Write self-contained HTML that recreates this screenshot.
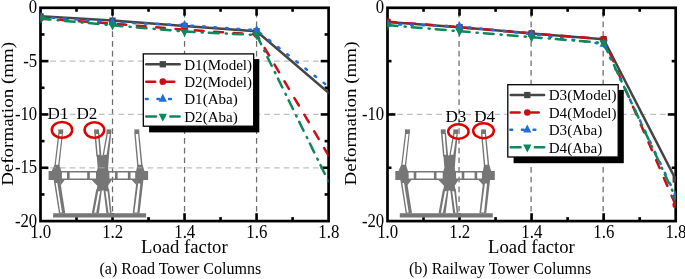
<!DOCTYPE html>
<html><head><meta charset="utf-8"><title>Deformation vs load factor</title>
<style>
html,body{margin:0;padding:0;background:#fff;}
svg{display:block;will-change:transform;}
text{font-family:"Liberation Serif", serif;fill:#000;}
</style></head><body>
<svg width="685" height="279" viewBox="0 0 685 279">
<rect width="685" height="279" fill="#fff"/>
<line x1="112.52" y1="7.8" x2="112.52" y2="221.1" stroke="#6c6c6c" stroke-width="1.25" stroke-dasharray="5.7 4" stroke-dashoffset="5.6"/>
<line x1="184.55" y1="7.8" x2="184.55" y2="221.1" stroke="#6c6c6c" stroke-width="1.25" stroke-dasharray="5.7 4" stroke-dashoffset="5.6"/>
<line x1="256.58" y1="7.8" x2="256.58" y2="221.1" stroke="#6c6c6c" stroke-width="1.25" stroke-dasharray="5.7 4" stroke-dashoffset="5.6"/>
<line x1="40.5" y1="61.12" x2="328.6" y2="61.12" stroke="#c0c0c0" stroke-width="1.3" stroke-dasharray="5.7 4.03"/>
<line x1="40.5" y1="114.45" x2="328.6" y2="114.45" stroke="#c0c0c0" stroke-width="1.3" stroke-dasharray="5.7 4.03"/>
<line x1="40.5" y1="167.78" x2="328.6" y2="167.78" stroke="#c0c0c0" stroke-width="1.3" stroke-dasharray="5.7 4.03"/>
<rect x="40.5" y="7.8" width="288.1" height="213.29999999999998" fill="none" stroke="#000" stroke-width="2.7"/>
<line x1="76.51" y1="7.8" x2="76.51" y2="11.8" stroke="#000" stroke-width="2.6"/>
<line x1="76.51" y1="221.1" x2="76.51" y2="217.1" stroke="#000" stroke-width="2.6"/>
<line x1="112.52" y1="7.8" x2="112.52" y2="15.7" stroke="#000" stroke-width="2.6"/>
<line x1="112.52" y1="221.1" x2="112.52" y2="213.2" stroke="#000" stroke-width="2.6"/>
<line x1="148.54" y1="7.8" x2="148.54" y2="11.8" stroke="#000" stroke-width="2.6"/>
<line x1="148.54" y1="221.1" x2="148.54" y2="217.1" stroke="#000" stroke-width="2.6"/>
<line x1="184.55" y1="7.8" x2="184.55" y2="15.7" stroke="#000" stroke-width="2.6"/>
<line x1="184.55" y1="221.1" x2="184.55" y2="213.2" stroke="#000" stroke-width="2.6"/>
<line x1="220.56" y1="7.8" x2="220.56" y2="11.8" stroke="#000" stroke-width="2.6"/>
<line x1="220.56" y1="221.1" x2="220.56" y2="217.1" stroke="#000" stroke-width="2.6"/>
<line x1="256.58" y1="7.8" x2="256.58" y2="15.7" stroke="#000" stroke-width="2.6"/>
<line x1="256.58" y1="221.1" x2="256.58" y2="213.2" stroke="#000" stroke-width="2.6"/>
<line x1="292.59" y1="7.8" x2="292.59" y2="11.8" stroke="#000" stroke-width="2.6"/>
<line x1="292.59" y1="221.1" x2="292.59" y2="217.1" stroke="#000" stroke-width="2.6"/>
<line x1="40.5" y1="34.46" x2="44.5" y2="34.46" stroke="#000" stroke-width="2.6"/>
<line x1="328.6" y1="34.46" x2="324.6" y2="34.46" stroke="#000" stroke-width="2.6"/>
<line x1="40.5" y1="61.12" x2="48.4" y2="61.12" stroke="#000" stroke-width="2.6"/>
<line x1="328.6" y1="61.12" x2="320.70000000000005" y2="61.12" stroke="#000" stroke-width="2.6"/>
<line x1="40.5" y1="87.79" x2="44.5" y2="87.79" stroke="#000" stroke-width="2.6"/>
<line x1="328.6" y1="87.79" x2="324.6" y2="87.79" stroke="#000" stroke-width="2.6"/>
<line x1="40.5" y1="114.45" x2="48.4" y2="114.45" stroke="#000" stroke-width="2.6"/>
<line x1="328.6" y1="114.45" x2="320.70000000000005" y2="114.45" stroke="#000" stroke-width="2.6"/>
<line x1="40.5" y1="141.11" x2="44.5" y2="141.11" stroke="#000" stroke-width="2.6"/>
<line x1="328.6" y1="141.11" x2="324.6" y2="141.11" stroke="#000" stroke-width="2.6"/>
<line x1="40.5" y1="167.78" x2="48.4" y2="167.78" stroke="#000" stroke-width="2.6"/>
<line x1="328.6" y1="167.78" x2="320.70000000000005" y2="167.78" stroke="#000" stroke-width="2.6"/>
<line x1="40.5" y1="194.44" x2="44.5" y2="194.44" stroke="#000" stroke-width="2.6"/>
<line x1="328.6" y1="194.44" x2="324.6" y2="194.44" stroke="#000" stroke-width="2.6"/>
<g transform="translate(0,0)"><path d="M53.1,213.2 L146.1,213.2 L146.1,217.5 L53.1,217.5Z" fill="#767676" fill-rule="evenodd"/>
<path d="M58.3,133 L63.0,133 L59.4,166 L54.4,166Z M59.5,134.0 L61.8,134.0 L58.2,164.8 L55.8,164.8Z" fill="#767676" fill-rule="evenodd"/>
<path d="M134.3,133 L139.3,133 L142.6,166 L137.2,166Z M135.7,134.0 L138.1,134.0 L141.0,164.8 L138.5,164.8Z" fill="#767676" fill-rule="evenodd"/>
<path d="M94.3,133 L99.3,133 L101.5,156.5 L96.4,156.5Z M95.9,134.0 L98.0,134.0 L99.5,154.8 L97.7,154.8Z" fill="#767676" fill-rule="evenodd"/>
<path d="M106.5,133 L111.2,133 L108.9,156.5 L102.4,156.5Z M107.8,134.0 L109.8,134.0 L106.6,154.8 L104.0,154.8Z" fill="#767676" fill-rule="evenodd"/>
<path d="M58.3,129.4 L63.199999999999996,129.4 L63.199999999999996,133.20000000000002 L58.3,133.20000000000002Z" fill="#767676" fill-rule="evenodd"/>
<path d="M94.1,129.4 L99.0,129.4 L99.0,133.20000000000002 L94.1,133.20000000000002Z" fill="#767676" fill-rule="evenodd"/>
<path d="M106.5,129.4 L111.4,129.4 L111.4,133.20000000000002 L106.5,133.20000000000002Z" fill="#767676" fill-rule="evenodd"/>
<path d="M134.4,129.4 L139.3,129.4 L139.3,133.20000000000002 L134.4,133.20000000000002Z" fill="#767676" fill-rule="evenodd"/>
<path d="M53.7,180 L60.1,180 L65.3,213.4 L59.0,213.4Z M55.7,183 L57.3,183 L62.0,212.6 L60.2,212.6Z" fill="#767676" fill-rule="evenodd"/>
<path d="M60,179.6 L65.0,179.6 L60.6,185.5Z" fill="#767676" fill-rule="evenodd"/>
<path d="M136.6,180 L143.4,180 L139.5,213.4 L132.7,213.4Z M138.2,183.5 L140.3,183.5 L137.4,212.6 L134.4,212.6Z" fill="#767676" fill-rule="evenodd"/>
<path d="M131.3,179.6 L137,179.6 L136.4,185Z" fill="#767676" fill-rule="evenodd"/>
<path d="M96.2,189.5 L101.9,189.5 L98.9,213.4 L91.8,213.4Z M98.2,191.2 L100.2,191.2 L96.2,212.8 L94.2,212.8Z" fill="#767676" fill-rule="evenodd"/>
<path d="M103.5,189.5 L109.2,189.5 L111.6,213.4 L106.4,213.4Z M105.5,191.2 L107.5,191.2 L110.0,212.8 L108.5,212.8Z" fill="#767676" fill-rule="evenodd"/>
<path d="M48.6,171.0 L148.1,171.0 L148.1,180.1 L48.6,180.1Z M61.9,172.6 L67.0,172.6 L67.0,178.6 L61.9,178.6Z M69.6,172.6 L87.2,172.6 L87.2,178.6 L69.6,178.6Z M89.8,172.6 L96.0,172.6 L96.0,178.6 L89.8,178.6Z M109.4,172.6 L115.0,172.6 L115.0,178.6 L109.4,178.6Z M117.6,172.6 L127.9,172.6 L127.9,178.6 L117.6,178.6Z M130.5,172.6 L135.2,172.6 L135.2,178.6 L130.5,178.6Z" fill="#767676" fill-rule="evenodd"/>
<path d="M54.4,165 L59.4,165 L61.4,171.4 L51.6,171.4Z" fill="#767676" fill-rule="evenodd"/>
<path d="M137.4,165 L142.6,165 L144.6,171.4 L136,171.4Z" fill="#767676" fill-rule="evenodd"/>
<path d="M96.7,155.6 L109.0,155.6 L108.1,168 L108.5,171 L108.8,180 L111.8,180 L108.0,185.8 L109.1,190.6 L96.5,190.6 L97.3,185.8 L91.7,180 L96.4,180 L96.7,171 L97.7,168Z" fill="#767676" fill-rule="evenodd"/></g>
<line x1="54.30" y1="167.78" x2="55.90" y2="167.78" stroke="#a2a2a2" stroke-width="1.1"/>
<line x1="98.90" y1="167.78" x2="104.60" y2="167.78" stroke="#a2a2a2" stroke-width="1.1"/>
<line x1="137.80" y1="167.78" x2="142.40" y2="167.78" stroke="#a2a2a2" stroke-width="1.1"/>
<clipPath id="cL"><rect x="40.5" y="7.8" width="288.1" height="213.29999999999998"/></clipPath>
<g clip-path="url(#cL)">
<polyline points="40.50,16.33 112.52,20.60 184.55,25.93 256.58,31.26 328.60,92.91" fill="none" stroke="#454545" stroke-width="2.5" stroke-linecap="round" stroke-linejoin="round"/>
<polyline points="40.50,18.46 112.52,23.58 184.55,29.66 256.58,34.46 328.60,155.51" fill="none" stroke="#cb0d15" stroke-width="2.5" stroke-linecap="round" stroke-linejoin="round" stroke-dasharray="8.70 10.70" stroke-dashoffset="0.35"/>
<polyline points="40.50,16.87 112.52,22.20 184.55,25.18 256.58,30.20 328.60,86.72" fill="none" stroke="#1e6fd9" stroke-width="2.5" stroke-linecap="round" stroke-linejoin="round" stroke-dasharray="1.80 9.80" stroke-dashoffset="-0.25"/>
<polyline points="40.50,18.68 112.52,25.29 184.55,31.58 256.58,35.00 328.60,181.64" fill="none" stroke="#0a8a5a" stroke-width="2.5" stroke-linecap="round" stroke-linejoin="round" stroke-dasharray="9.80 7.10 1.10 6.10" stroke-dashoffset="-0.25"/>
<rect x="37.35" y="13.18" width="6.3" height="6.3" fill="#454545"/>
<rect x="109.37" y="17.45" width="6.3" height="6.3" fill="#454545"/>
<rect x="181.40" y="22.78" width="6.3" height="6.3" fill="#454545"/>
<rect x="253.43" y="28.11" width="6.3" height="6.3" fill="#454545"/>
<circle cx="40.50" cy="18.46" r="3.3" fill="#cb0d15"/>
<circle cx="112.52" cy="23.58" r="3.3" fill="#cb0d15"/>
<circle cx="184.55" cy="29.66" r="3.3" fill="#cb0d15"/>
<circle cx="256.58" cy="34.46" r="3.3" fill="#cb0d15"/>
<polygon points="40.50,11.57 36.40,19.57 44.60,19.57" fill="#1e6fd9"/>
<polygon points="112.52,16.90 108.42,24.90 116.62,24.90" fill="#1e6fd9"/>
<polygon points="184.55,19.88 180.45,27.88 188.65,27.88" fill="#1e6fd9"/>
<polygon points="256.58,24.90 252.48,32.90 260.68,32.90" fill="#1e6fd9"/>
<polygon points="40.50,23.98 36.40,15.98 44.60,15.98" fill="#0a8a5a"/>
<polygon points="112.52,30.59 108.42,22.59 116.62,22.59" fill="#0a8a5a"/>
<polygon points="184.55,36.88 180.45,28.88 188.65,28.88" fill="#0a8a5a"/>
<polygon points="256.58,40.30 252.48,32.30 260.68,32.30" fill="#0a8a5a"/>
</g>
<text transform="translate(37.20,12.70) scale(0.94,1)" text-anchor="end" font-size="17.8">0</text>
<text transform="translate(37.20,66.57) scale(0.94,1)" text-anchor="end" font-size="17.8">-5</text>
<text transform="translate(37.20,119.90) scale(0.94,1)" text-anchor="end" font-size="17.8">-10</text>
<text transform="translate(37.20,173.22) scale(0.94,1)" text-anchor="end" font-size="17.8">-15</text>
<text transform="translate(37.20,226.55) scale(0.94,1)" text-anchor="end" font-size="17.8">-20</text>
<text transform="translate(40.70,238.30) scale(0.94,1)" text-anchor="middle" font-size="17.9">1.0</text>
<text transform="translate(112.72,238.30) scale(0.94,1)" text-anchor="middle" font-size="17.9">1.2</text>
<text transform="translate(184.75,238.30) scale(0.94,1)" text-anchor="middle" font-size="17.9">1.4</text>
<text transform="translate(256.78,238.30) scale(0.94,1)" text-anchor="middle" font-size="17.9">1.6</text>
<text transform="translate(328.80,238.30) scale(0.94,1)" text-anchor="middle" font-size="17.9">1.8</text>
<text transform="translate(184.35,253.40)" text-anchor="middle" font-size="18.7">Load factor</text>
<text transform="translate(13.40,113.90) rotate(-90) scale(1.08,1)" text-anchor="middle" font-size="17.6">Deformation (mm)</text>
<text transform="translate(180.30,274.20)" text-anchor="middle" font-size="16">(a) Road Tower Columns</text>
<ellipse cx="62" cy="129.9" rx="10.2" ry="7.9" fill="none" stroke="#e00000" stroke-width="2.5"/>
<ellipse cx="94.4" cy="129.95" rx="9.8" ry="7.75" fill="none" stroke="#e00000" stroke-width="2.5"/>
<text transform="translate(47.60,118.50) scale(0.99,1)" text-anchor="start" font-size="17.3">D1</text>
<text transform="translate(76.40,118.50) scale(0.99,1)" text-anchor="start" font-size="17.3">D2</text>
<rect x="149.10" y="59.10" width="110.20" height="73.30" fill="#000"/>
<rect x="143.3" y="53.9" width="110.4" height="72.3" fill="#fff" stroke="#000" stroke-width="1.3"/>
<line x1="146.25" y1="64.25" x2="179.65" y2="64.25" stroke="#454545" stroke-width="2.5" stroke-linecap="round"/>
<rect x="159.65" y="61.10" width="6.3" height="6.3" fill="#454545"/>
<text x="184.20" y="69.5" font-size="15.1">D1(Model)</text>
<line x1="146.25" y1="81.65" x2="179.65" y2="81.65" stroke="#cb0d15" stroke-width="2.5" stroke-linecap="round" stroke-dasharray="8.90 10.20"/>
<circle cx="162.80" cy="81.65" r="3.3" fill="#cb0d15"/>
<text x="184.20" y="87.0" font-size="15.1">D2(Model)</text>
<line x1="145.85" y1="99.05" x2="177.05" y2="99.05" stroke="#1e6fd9" stroke-width="2.5" stroke-linecap="round" stroke-dasharray="1.80 9.80"/>
<polygon points="162.80,93.75 158.70,101.75 166.90,101.75" fill="#1e6fd9"/>
<text x="184.20" y="104.3" font-size="15.1">D1(Aba)</text>
<line x1="146.25" y1="116.45" x2="179.65" y2="116.45" stroke="#0a8a5a" stroke-width="2.5" stroke-linecap="round" stroke-dasharray="9.80 7.10 1.10 6.10"/>
<polygon points="162.80,121.75 158.70,113.75 166.90,113.75" fill="#0a8a5a"/>
<text x="184.20" y="121.7" font-size="15.1">D2(Aba)</text>
<line x1="459.05" y1="7.8" x2="459.05" y2="221.1" stroke="#6c6c6c" stroke-width="1.25" stroke-dasharray="5.7 4" stroke-dashoffset="5.6"/>
<line x1="531.10" y1="7.8" x2="531.10" y2="221.1" stroke="#6c6c6c" stroke-width="1.25" stroke-dasharray="5.7 4" stroke-dashoffset="5.6"/>
<line x1="603.15" y1="7.8" x2="603.15" y2="221.1" stroke="#6c6c6c" stroke-width="1.25" stroke-dasharray="5.7 4" stroke-dashoffset="5.6"/>
<line x1="387.5" y1="114.45" x2="675.7" y2="114.45" stroke="#c0c0c0" stroke-width="1.3" stroke-dasharray="5.7 4.03"/>
<rect x="387.5" y="7.8" width="288.20000000000005" height="213.29999999999998" fill="none" stroke="#000" stroke-width="2.7"/>
<line x1="423.53" y1="7.8" x2="423.53" y2="11.8" stroke="#000" stroke-width="2.6"/>
<line x1="423.53" y1="221.1" x2="423.53" y2="217.1" stroke="#000" stroke-width="2.6"/>
<line x1="459.55" y1="7.8" x2="459.55" y2="15.7" stroke="#000" stroke-width="2.6"/>
<line x1="459.55" y1="221.1" x2="459.55" y2="213.2" stroke="#000" stroke-width="2.6"/>
<line x1="495.58" y1="7.8" x2="495.58" y2="11.8" stroke="#000" stroke-width="2.6"/>
<line x1="495.58" y1="221.1" x2="495.58" y2="217.1" stroke="#000" stroke-width="2.6"/>
<line x1="531.60" y1="7.8" x2="531.60" y2="15.7" stroke="#000" stroke-width="2.6"/>
<line x1="531.60" y1="221.1" x2="531.60" y2="213.2" stroke="#000" stroke-width="2.6"/>
<line x1="567.62" y1="7.8" x2="567.62" y2="11.8" stroke="#000" stroke-width="2.6"/>
<line x1="567.62" y1="221.1" x2="567.62" y2="217.1" stroke="#000" stroke-width="2.6"/>
<line x1="603.65" y1="7.8" x2="603.65" y2="15.7" stroke="#000" stroke-width="2.6"/>
<line x1="603.65" y1="221.1" x2="603.65" y2="213.2" stroke="#000" stroke-width="2.6"/>
<line x1="639.68" y1="7.8" x2="639.68" y2="11.8" stroke="#000" stroke-width="2.6"/>
<line x1="639.68" y1="221.1" x2="639.68" y2="217.1" stroke="#000" stroke-width="2.6"/>
<line x1="387.5" y1="61.12" x2="391.5" y2="61.12" stroke="#000" stroke-width="2.6"/>
<line x1="675.7" y1="61.12" x2="671.7" y2="61.12" stroke="#000" stroke-width="2.6"/>
<line x1="387.5" y1="114.45" x2="395.4" y2="114.45" stroke="#000" stroke-width="2.6"/>
<line x1="675.7" y1="114.45" x2="667.8000000000001" y2="114.45" stroke="#000" stroke-width="2.6"/>
<line x1="387.5" y1="167.78" x2="391.5" y2="167.78" stroke="#000" stroke-width="2.6"/>
<line x1="675.7" y1="167.78" x2="671.7" y2="167.78" stroke="#000" stroke-width="2.6"/>
<g transform="translate(346.7,0)"><path d="M53.1,213.2 L146.1,213.2 L146.1,217.5 L53.1,217.5Z" fill="#767676" fill-rule="evenodd"/>
<path d="M58.3,133 L63.0,133 L59.4,166 L54.4,166Z M59.5,134.0 L61.8,134.0 L58.2,164.8 L55.8,164.8Z" fill="#767676" fill-rule="evenodd"/>
<path d="M134.3,133 L139.3,133 L142.6,166 L137.2,166Z M135.7,134.0 L138.1,134.0 L141.0,164.8 L138.5,164.8Z" fill="#767676" fill-rule="evenodd"/>
<path d="M94.3,133 L99.3,133 L101.5,156.5 L96.4,156.5Z M95.9,134.0 L98.0,134.0 L99.5,154.8 L97.7,154.8Z" fill="#767676" fill-rule="evenodd"/>
<path d="M106.5,133 L111.2,133 L108.9,156.5 L102.4,156.5Z M107.8,134.0 L109.8,134.0 L106.6,154.8 L104.0,154.8Z" fill="#767676" fill-rule="evenodd"/>
<path d="M58.3,129.4 L63.199999999999996,129.4 L63.199999999999996,133.20000000000002 L58.3,133.20000000000002Z" fill="#767676" fill-rule="evenodd"/>
<path d="M94.1,129.4 L99.0,129.4 L99.0,133.20000000000002 L94.1,133.20000000000002Z" fill="#767676" fill-rule="evenodd"/>
<path d="M106.5,129.4 L111.4,129.4 L111.4,133.20000000000002 L106.5,133.20000000000002Z" fill="#767676" fill-rule="evenodd"/>
<path d="M134.4,129.4 L139.3,129.4 L139.3,133.20000000000002 L134.4,133.20000000000002Z" fill="#767676" fill-rule="evenodd"/>
<path d="M53.7,180 L60.1,180 L65.3,213.4 L59.0,213.4Z M55.7,183 L57.3,183 L62.0,212.6 L60.2,212.6Z" fill="#767676" fill-rule="evenodd"/>
<path d="M60,179.6 L65.0,179.6 L60.6,185.5Z" fill="#767676" fill-rule="evenodd"/>
<path d="M136.6,180 L143.4,180 L139.5,213.4 L132.7,213.4Z M138.2,183.5 L140.3,183.5 L137.4,212.6 L134.4,212.6Z" fill="#767676" fill-rule="evenodd"/>
<path d="M131.3,179.6 L137,179.6 L136.4,185Z" fill="#767676" fill-rule="evenodd"/>
<path d="M96.2,189.5 L101.9,189.5 L98.9,213.4 L91.8,213.4Z M98.2,191.2 L100.2,191.2 L96.2,212.8 L94.2,212.8Z" fill="#767676" fill-rule="evenodd"/>
<path d="M103.5,189.5 L109.2,189.5 L111.6,213.4 L106.4,213.4Z M105.5,191.2 L107.5,191.2 L110.0,212.8 L108.5,212.8Z" fill="#767676" fill-rule="evenodd"/>
<path d="M48.6,171.0 L148.1,171.0 L148.1,180.1 L48.6,180.1Z M61.9,172.6 L67.0,172.6 L67.0,178.6 L61.9,178.6Z M69.6,172.6 L87.2,172.6 L87.2,178.6 L69.6,178.6Z M89.8,172.6 L96.0,172.6 L96.0,178.6 L89.8,178.6Z M109.4,172.6 L115.0,172.6 L115.0,178.6 L109.4,178.6Z M117.6,172.6 L127.9,172.6 L127.9,178.6 L117.6,178.6Z M130.5,172.6 L135.2,172.6 L135.2,178.6 L130.5,178.6Z" fill="#767676" fill-rule="evenodd"/>
<path d="M54.4,165 L59.4,165 L61.4,171.4 L51.6,171.4Z" fill="#767676" fill-rule="evenodd"/>
<path d="M137.4,165 L142.6,165 L144.6,171.4 L136,171.4Z" fill="#767676" fill-rule="evenodd"/>
<path d="M96.7,155.6 L109.0,155.6 L108.1,168 L108.5,171 L108.8,180 L111.8,180 L108.0,185.8 L109.1,190.6 L96.5,190.6 L97.3,185.8 L91.7,180 L96.4,180 L96.7,171 L97.7,168Z" fill="#767676" fill-rule="evenodd"/></g>
<clipPath id="cR"><rect x="387.5" y="7.8" width="288.20000000000005" height="213.29999999999998"/></clipPath>
<g clip-path="url(#cR)">
<polyline points="387.50,21.98 459.55,27.21 531.60,33.40 603.65,39.26 675.70,179.51" fill="none" stroke="#454545" stroke-width="2.5" stroke-linecap="round" stroke-linejoin="round"/>
<polyline points="387.50,21.66 459.55,27.21 531.60,33.40 603.65,39.05 675.70,205.10" fill="none" stroke="#cb0d15" stroke-width="2.5" stroke-linecap="round" stroke-linejoin="round" stroke-dasharray="8.70 10.70" stroke-dashoffset="0.35"/>
<polyline points="387.50,24.01 459.55,26.46 531.60,33.93 603.65,44.06 675.70,195.50" fill="none" stroke="#1e6fd9" stroke-width="2.5" stroke-linecap="round" stroke-linejoin="round" stroke-dasharray="1.80 9.80" stroke-dashoffset="-0.25"/>
<polyline points="387.50,25.08 459.55,31.26 531.60,37.13 603.65,42.99 675.70,197.64" fill="none" stroke="#0a8a5a" stroke-width="2.5" stroke-linecap="round" stroke-linejoin="round" stroke-dasharray="9.80 7.10 1.10 6.10" stroke-dashoffset="-0.25"/>
<rect x="384.35" y="18.83" width="6.3" height="6.3" fill="#454545"/>
<rect x="456.40" y="24.06" width="6.3" height="6.3" fill="#454545"/>
<rect x="528.45" y="30.25" width="6.3" height="6.3" fill="#454545"/>
<rect x="600.50" y="36.11" width="6.3" height="6.3" fill="#454545"/>
<rect x="672.55" y="176.36" width="6.3" height="6.3" fill="#454545"/>
<circle cx="387.50" cy="21.66" r="3.3" fill="#cb0d15"/>
<circle cx="459.55" cy="27.21" r="3.3" fill="#cb0d15"/>
<circle cx="531.60" cy="33.40" r="3.3" fill="#cb0d15"/>
<circle cx="603.65" cy="39.05" r="3.3" fill="#cb0d15"/>
<circle cx="675.70" cy="205.10" r="3.3" fill="#cb0d15"/>
<polygon points="387.50,18.71 383.40,26.71 391.60,26.71" fill="#1e6fd9"/>
<polygon points="459.55,21.16 455.45,29.16 463.65,29.16" fill="#1e6fd9"/>
<polygon points="531.60,28.63 527.50,36.63 535.70,36.63" fill="#1e6fd9"/>
<polygon points="603.65,38.76 599.55,46.76 607.75,46.76" fill="#1e6fd9"/>
<polygon points="675.70,190.20 671.60,198.20 679.80,198.20" fill="#1e6fd9"/>
<polygon points="387.50,30.38 383.40,22.38 391.60,22.38" fill="#0a8a5a"/>
<polygon points="459.55,36.56 455.45,28.56 463.65,28.56" fill="#0a8a5a"/>
<polygon points="531.60,42.43 527.50,34.43 535.70,34.43" fill="#0a8a5a"/>
<polygon points="603.65,48.29 599.55,40.29 607.75,40.29" fill="#0a8a5a"/>
<polygon points="675.70,202.94 671.60,194.94 679.80,194.94" fill="#0a8a5a"/>
</g>
<text transform="translate(384.20,12.70) scale(0.94,1)" text-anchor="end" font-size="17.8">0</text>
<text transform="translate(384.20,119.90) scale(0.94,1)" text-anchor="end" font-size="17.8">-10</text>
<text transform="translate(384.20,226.55) scale(0.94,1)" text-anchor="end" font-size="17.8">-20</text>
<text transform="translate(387.70,238.30) scale(0.94,1)" text-anchor="middle" font-size="17.9">1.0</text>
<text transform="translate(459.75,238.30) scale(0.94,1)" text-anchor="middle" font-size="17.9">1.2</text>
<text transform="translate(531.80,238.30) scale(0.94,1)" text-anchor="middle" font-size="17.9">1.4</text>
<text transform="translate(603.85,238.30) scale(0.94,1)" text-anchor="middle" font-size="17.9">1.6</text>
<text transform="translate(675.90,238.30) scale(0.94,1)" text-anchor="middle" font-size="17.9">1.8</text>
<text transform="translate(531.40,253.40)" text-anchor="middle" font-size="18.7">Load factor</text>
<text transform="translate(356.00,113.50) rotate(-90) scale(1.08,1)" text-anchor="middle" font-size="17.6">Deformation (mm)</text>
<text transform="translate(500.10,274.20)" text-anchor="middle" font-size="16">(b) Railway Tower Columns</text>
<ellipse cx="458.4" cy="131.5" rx="10.2" ry="7.2" fill="none" stroke="#e00000" stroke-width="2.5"/>
<ellipse cx="483.5" cy="130.75" rx="10.3" ry="7.55" fill="none" stroke="#e00000" stroke-width="2.5"/>
<text transform="translate(445.50,121.50) scale(0.99,1)" text-anchor="start" font-size="17.3">D3</text>
<text transform="translate(474.20,121.50) scale(0.99,1)" text-anchor="start" font-size="17.3">D4</text>
<rect x="513.60" y="89.90" width="110.20" height="73.30" fill="#000"/>
<rect x="507.8" y="84.7" width="110.4" height="72.3" fill="#fff" stroke="#000" stroke-width="1.3"/>
<line x1="510.75" y1="95.05" x2="544.15" y2="95.05" stroke="#454545" stroke-width="2.5" stroke-linecap="round"/>
<rect x="524.15" y="91.90" width="6.3" height="6.3" fill="#454545"/>
<text x="548.70" y="100.3" font-size="15.1">D3(Model)</text>
<line x1="510.75" y1="112.45" x2="544.15" y2="112.45" stroke="#cb0d15" stroke-width="2.5" stroke-linecap="round" stroke-dasharray="8.90 10.20"/>
<circle cx="527.30" cy="112.45" r="3.3" fill="#cb0d15"/>
<text x="548.70" y="117.7" font-size="15.1">D4(Model)</text>
<line x1="510.35" y1="129.85" x2="541.55" y2="129.85" stroke="#1e6fd9" stroke-width="2.5" stroke-linecap="round" stroke-dasharray="1.80 9.80"/>
<polygon points="527.30,124.55 523.20,132.55 531.40,132.55" fill="#1e6fd9"/>
<text x="548.70" y="135.2" font-size="15.1">D3(Aba)</text>
<line x1="510.75" y1="147.25" x2="544.15" y2="147.25" stroke="#0a8a5a" stroke-width="2.5" stroke-linecap="round" stroke-dasharray="9.80 7.10 1.10 6.10"/>
<polygon points="527.30,152.55 523.20,144.55 531.40,144.55" fill="#0a8a5a"/>
<text x="548.70" y="152.6" font-size="15.1">D4(Aba)</text>
</svg>
</body></html>
